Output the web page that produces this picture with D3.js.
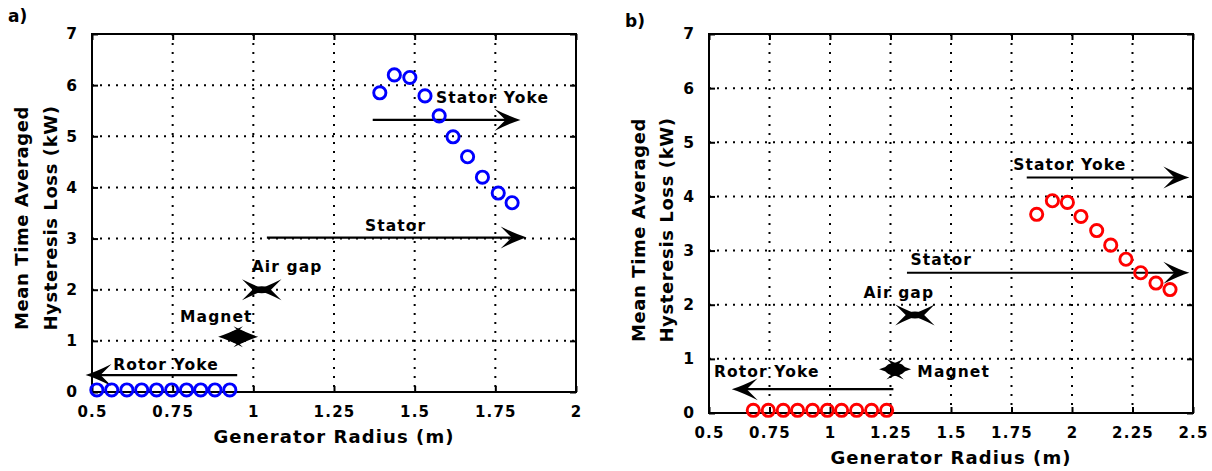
<!DOCTYPE html>
<html>
<head>
<meta charset="utf-8">
<script src="https://cdn.jsdelivr.net/npm/d3@7"></script>
<style>
  html, body { margin: 0; padding: 0; background: #fff; }
  svg { display: block; }
  text { font-family: "DejaVu Sans", "Liberation Sans", sans-serif; font-weight: bold; fill: #000; }
</style>
</head>
<body>
<svg id="chart" width="1212" height="471"></svg>
<script>
// ---------- data ----------
const yTicks = [0, 1, 2, 3, 4, 5, 6, 7];
const yTickLabels = ["0", "1", "2", "3", "4", "5", "6", "7"];

const xTicksA = [0.5, 0.75, 1, 1.25, 1.5, 1.75, 2];
const xTickLabelsA = ["0.5", "0.75", "1", "1.25", "1.5", "1.75", "2"];
const xTicksB = [0.5, 0.75, 1, 1.25, 1.5, 1.75, 2, 2.25, 2.5];
const xTickLabelsB = ["0.5", "0.75", "1", "1.25", "1.5", "1.75", "2", "2.25", "2.5"];

// Panel a (blue)
const rotorYokeRadiusA = [0.515, 0.561, 0.608, 0.654, 0.700, 0.747, 0.793, 0.837, 0.881, 0.927];
const rotorYokeLossA   = [0.04, 0.04, 0.04, 0.04, 0.04, 0.04, 0.04, 0.04, 0.04, 0.04];
const statorYokeRadiusA = [1.392, 1.437, 1.485, 1.532, 1.576, 1.619, 1.664, 1.710, 1.759, 1.802];
const statorYokeLossA   = [5.85, 6.20, 6.15, 5.79, 5.40, 4.99, 4.60, 4.20, 3.89, 3.70];

// Panel b (red)
const rotorYokeRadiusB = [0.683, 0.745, 0.807, 0.866, 0.928, 0.989, 1.048, 1.110, 1.172, 1.234];
const rotorYokeLossB   = [0.05, 0.05, 0.05, 0.05, 0.05, 0.05, 0.05, 0.05, 0.05, 0.05];
const statorYokeRadiusB = [1.854, 1.919, 1.981, 2.037, 2.102, 2.160, 2.223, 2.284, 2.347, 2.405];
const statorYokeLossB   = [3.67, 3.92, 3.89, 3.63, 3.37, 3.10, 2.84, 2.59, 2.40, 2.28];

// Region arrows (data units): start radius, end radius (head), loss level
const arrowFromA  = [0.95, 1.042, 1.37];
const arrowToA    = [0.48, 1.847, 1.828];
const arrowLevelA = [0.33, 3.02, 5.32];
const arrowFromB  = [1.262, 1.318, 1.813];
const arrowToB    = [0.594, 2.485, 2.485];
const arrowLevelB = [0.44, 2.59, 4.35];

// Thin-region markers (double arrows): Magnet, Air gap
const markerKinds   = ["out", "in"];
const markerRadiusA = [0.953, 1.026];
const markerLossA   = [1.08, 2.0];
const markerRadiusB = [1.269, 1.351];
const markerLossB   = [0.81, 1.81];

// Region labels and their anchor points (data units)
const regionLabels = ["Rotor Yoke", "Stator", "Stator Yoke", "Magnet", "Air gap"];
const labelRadiusA = [0.566, 1.346, 1.566, 0.773, 0.995];
const labelLossA   = [0.43, 3.15, 5.65, 1.375, 2.35];
const labelRadiusB = [0.521, 1.333, 1.757, 1.361, 1.138];
const labelLossB   = [0.67, 2.73, 4.48, 0.67, 2.12];

const xTitle = "Generator Radius (m)";
const yTitle1 = "Mean Time Averaged";
const yTitle2 = "Hysteresis Loss (kW)";

// ---------- drawing ----------
const svg = d3.select("#chart");
svg.append("rect").attr("width", 1212).attr("height", 471).attr("fill", "#fff");

const HEAD = "M0,0 Q-10,-3 -26,-11 L-15,0 L-26,11 Q-10,3 0,0 Z";

function head(g, x, y, dir, s) {
  g.append("path")
    .attr("d", HEAD)
    .attr("transform", `translate(${x},${y}) scale(${dir * (s || 1)},${s || 1})`)
    .attr("fill", "#000");
}

function panel(cfg) {
  const x = d3.scaleLinear().domain(cfg.xDomain).range([cfg.left, cfg.right]);
  const y = d3.scaleLinear().domain([0, 7]).range([cfg.bottom, cfg.top]);
  const g = svg.append("g");

  // grid
  const inner = cfg.xTicks.slice(1, -1);
  g.selectAll(".vg").data(inner).enter().append("line")
    .attr("x1", d => x(d)).attr("x2", d => x(d))
    .attr("y1", cfg.top).attr("y2", cfg.bottom)
    .attr("stroke", "#000").attr("stroke-width", 2).attr("stroke-dasharray", "2,7");
  g.selectAll(".hg").data(yTicks.slice(1, -1)).enter().append("line")
    .attr("x1", cfg.left).attr("x2", cfg.right)
    .attr("y1", d => y(d)).attr("y2", d => y(d))
    .attr("stroke", "#000").attr("stroke-width", 2).attr("stroke-dasharray", "2,6");

  // axes with inward ticks
  const bottomAxis = d3.axisBottom(x).tickValues(cfg.xTicks)
    .tickFormat((d, i) => cfg.xLabels[i]).tickSizeInner(-6).tickSizeOuter(0).tickPadding(18);
  const leftAxis = d3.axisLeft(y).tickValues(yTicks)
    .tickFormat((d, i) => yTickLabels[i]).tickSizeInner(-6).tickSizeOuter(0).tickPadding(15);
  const topAxis = d3.axisTop(x).tickValues(cfg.xTicks).tickFormat("").tickSizeInner(-6).tickSizeOuter(0);
  const rightAxis = d3.axisRight(y).tickValues(yTicks).tickFormat("").tickSizeInner(-6).tickSizeOuter(0);

  const ab = g.append("g").attr("transform", `translate(0,${cfg.bottom})`).call(bottomAxis);
  const al = g.append("g").attr("transform", `translate(${cfg.left},0)`).call(leftAxis);
  const at = g.append("g").attr("transform", `translate(0,${cfg.top})`).call(topAxis);
  const ar = g.append("g").attr("transform", `translate(${cfg.right},0)`).call(rightAxis);
  [ab, al, at, ar].forEach(a => {
    a.attr("font-size", null).attr("font-family", null);
    a.select(".domain").remove();
    a.selectAll(".tick line").attr("stroke", "#000").attr("stroke-width", 2);
  });
  ab.selectAll(".tick text").style("font-size", "15px").style("letter-spacing", "1.2px")
    .attr("dy", "0.45em");
  al.selectAll(".tick text").style("font-size", "15.5px");

  // box
  g.append("rect").attr("x", cfg.left).attr("y", cfg.top)
    .attr("width", cfg.right - cfg.left).attr("height", cfg.bottom - cfg.top)
    .attr("fill", "none").attr("stroke", "#000").attr("stroke-width", 2);

  // region arrows
  cfg.arrowFrom.forEach((x0, i) => {
    const x1 = cfg.arrowTo[i];
    const yy = y(cfg.arrowLevel[i]);
    const dir = x1 > x0 ? 1 : -1;
    g.append("line")
      .attr("x1", x(x0)).attr("x2", x(x1) - dir * 14)
      .attr("y1", yy).attr("y2", yy)
      .attr("stroke", "#000").attr("stroke-width", 2.2);
    head(g, x(x1), yy, dir);
  });

  // markers (double arrows)
  markerKinds.forEach((k, i) => {
    const cx = x(cfg.markerRadius[i]);
    const cy = y(cfg.markerLoss[i]);
    const half = cfg.markerHalf[i];
    if (k === "in") {
      head(g, cx + 5, cy, 1, 0.95);
      head(g, cx - 5, cy, -1, 0.95);
      g.append("ellipse").attr("cx", cx).attr("cy", cy).attr("rx", 8).attr("ry", 3.5).attr("fill", "#000");
    } else {
      head(g, cx - half, cy, -1, 0.95);
      head(g, cx + half, cy, 1, 0.95);
      g.append("ellipse").attr("cx", cx).attr("cy", cy).attr("rx", 10).attr("ry", 6.5).attr("fill", "#000");
    }
  });

  // data circles
  const pts = cfg.rr.map((r, i) => [r, cfg.rl[i]])
    .concat(cfg.sr.map((r, i) => [r, cfg.sl[i]]));
  g.selectAll(".pt").data(pts).enter().append("circle")
    .attr("cx", d => x(d[0])).attr("cy", d => y(d[1])).attr("r", 6.1)
    .attr("fill", "none").attr("stroke", cfg.color).attr("stroke-width", 2.9);

  // region labels
  regionLabels.forEach((t, i) => {
    g.append("text").attr("x", x(cfg.labelR[i])).attr("y", y(cfg.labelL[i]))
      .style("font-size", "15.5px").style("letter-spacing", "1.1px").text(t);
  });

  // axis titles
  g.append("text").attr("x", (cfg.left + cfg.right) / 2).attr("y", cfg.bottom + 51)
    .attr("text-anchor", "middle").style("font-size", "18px").style("letter-spacing", "1.1px")
    .text(xTitle);
  const yc = cfg.yTitleCenter;
  g.append("text").attr("transform", `translate(${cfg.yt1},${yc}) rotate(-90)`)
    .attr("text-anchor", "middle").style("font-size", "18px").style("letter-spacing", "0.6px")
    .text(yTitle1);
  g.append("text").attr("transform", `translate(${cfg.yt2},${yc}) rotate(-90)`)
    .attr("text-anchor", "middle").style("font-size", "18px").style("letter-spacing", "0.6px")
    .text(yTitle2);

  // panel tag
  g.append("text").attr("x", cfg.tagX).attr("y", cfg.tagY).style("font-size", "17px").text(cfg.tag);
}

panel({
  left: 92, right: 576, top: 34, bottom: 392,
  xDomain: [0.5, 2], xTicks: xTicksA, xLabels: xTickLabelsA,
  rr: rotorYokeRadiusA, rl: rotorYokeLossA, sr: statorYokeRadiusA, sl: statorYokeLossA,
  color: "#0000ff",
  arrowFrom: arrowFromA, arrowTo: arrowToA, arrowLevel: arrowLevelA,
  markerRadius: markerRadiusA, markerLoss: markerLossA, markerHalf: [20, 20],
  labelR: labelRadiusA, labelL: labelLossA,
  yt1: 28, yt2: 57, yTitleCenter: 218,
  tag: "a)", tagX: 8, tagY: 22
});

panel({
  left: 709, right: 1193, top: 34, bottom: 413,
  xDomain: [0.5, 2.5], xTicks: xTicksB, xLabels: xTickLabelsB,
  rr: rotorYokeRadiusB, rl: rotorYokeLossB, sr: statorYokeRadiusB, sl: statorYokeLossB,
  color: "#ff0000",
  arrowFrom: arrowFromB, arrowTo: arrowToB, arrowLevel: arrowLevelB,
  markerRadius: markerRadiusB, markerLoss: markerLossB, markerHalf: [16, 21],
  labelR: labelRadiusB, labelL: labelLossB,
  yt1: 645, yt2: 673, yTitleCenter: 230,
  tag: "b)", tagX: 625, tagY: 27
});
</script>
</body>
</html>
